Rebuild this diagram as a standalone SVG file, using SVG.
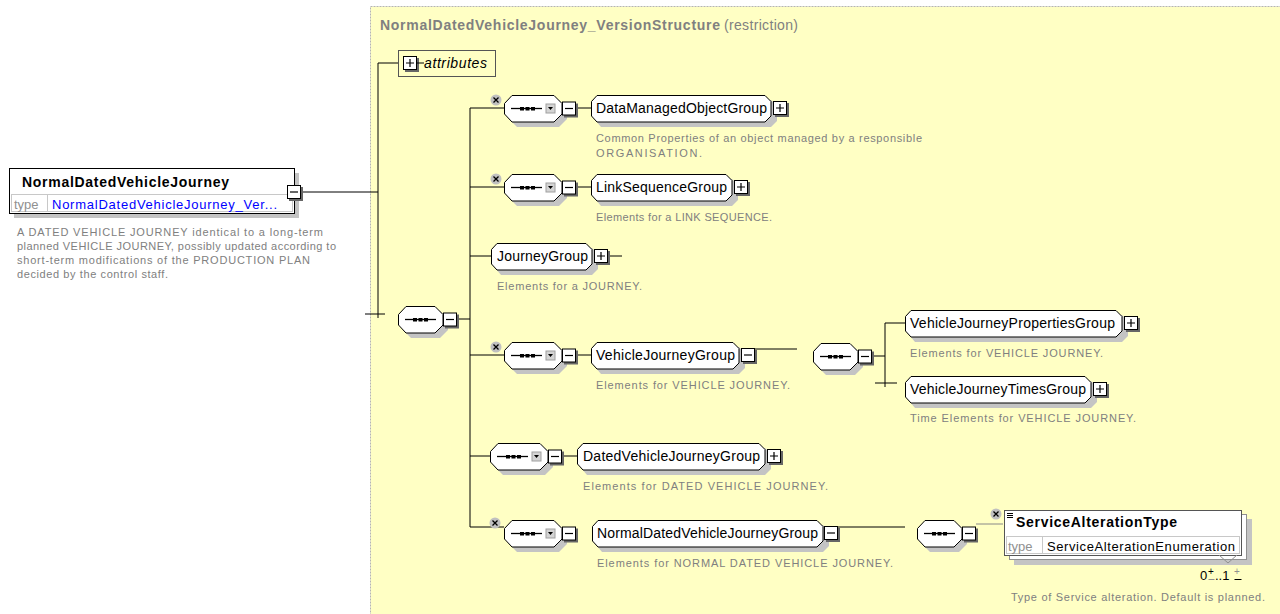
<svg xmlns="http://www.w3.org/2000/svg" xmlns:xlink="http://www.w3.org/1999/xlink" width="1280" height="614" viewBox="0 0 1280 614">
<style>
.lbl{font-family:"Liberation Sans",Arial,sans-serif;font-size:14px;fill:#000}
.desc{font-family:"Liberation Sans",Arial,sans-serif;font-size:11px;fill:#808080}
.bold{font-family:"Liberation Sans",Arial,sans-serif;font-size:14px;font-weight:bold;fill:#000}
.node{fill:#fff;stroke:#000;stroke-width:1}
.shd{fill:#c4c4c4;stroke:none}
.ln{stroke:#000;stroke-width:1;fill:none}
.box{fill:#fff;stroke:#000;stroke-width:1}
</style>
<defs>
<g id="minus">
<rect x="2" y="2" width="14" height="14" fill="#666"/>
<rect x="0.5" y="0.5" width="13" height="13" class="box"/>
<path d="M3,7 H11" stroke="#000" stroke-width="1.2"/>
</g>
<g id="plus">
<rect x="2" y="2" width="14" height="14" fill="#666"/>
<rect x="0.5" y="0.5" width="13" height="13" class="box"/>
<path d="M3,7 H11 M7,3 V11" stroke="#000" stroke-width="1.2"/>
</g>
<g id="xb">
<circle cx="0" cy="0" r="5.5" fill="#c0c0c0"/>
<path d="M-2.5,-2.5 L2.5,2.5 M2.5,-2.5 L-2.5,2.5" stroke="#000" stroke-width="1.3"/>
</g>
<g id="choice">
<path d="M13,5 H55 L63,13 V24 L55,32 H13 L5,24 V13 Z" class="shd"/>
<path d="M8,0.5 H50 L58,8.5 V19 L50,27 H8 L0.5,19 V8.5 Z" class="node"/>
<path d="M7,13.5 H38" stroke="#000" stroke-width="1.3"/>
<rect x="16" y="12" width="4" height="3.5" fill="#000"/>
<rect x="21.5" y="12" width="4" height="3.5" fill="#000"/>
<rect x="27" y="12" width="4" height="3.5" fill="#000"/>
<rect x="42" y="9" width="9" height="9" fill="#d4d4d4" stroke="#a0a0a0"/>
<path d="M44,12 H49 L46.5,15 Z" fill="#000"/>
<use xlink:href="#minus" x="58" y="6.5"/>
</g>
<g id="seq">
<path d="M13,5 H42 L50,13 V24 L42,32 H13 L5,24 V13 Z" class="shd"/>
<path d="M8,0.5 H37 L45,8.5 V19 L37,27 H8 L0.5,19 V8.5 Z" class="node"/>
<path d="M7,13.5 H38" stroke="#000" stroke-width="1.3"/>
<rect x="15" y="12" width="4" height="3.5" fill="#000"/>
<rect x="20.5" y="12" width="4" height="3.5" fill="#000"/>
<rect x="26" y="12" width="4" height="3.5" fill="#000"/>
<use xlink:href="#minus" x="45" y="6.5"/>
</g>
</defs>

<rect x="370.5" y="6.5" width="915" height="615" fill="#FFFFC4" stroke="#b4b4b4" stroke-dasharray="2,1"/>
<text x="380" y="30" font-family="Liberation Sans, Arial, sans-serif" font-size="14" fill="#808080"><tspan font-weight="bold" textLength="340">NormalDatedVehicleJourney_VersionStructure</tspan><tspan x="724" textLength="74">(restriction)</tspan></text>

<g id="connectors">
<path class="ln" d="M302,192 H378 M378,63 V318 M378,63 H398 M365,314 H385"/>
<path class="ln" d="M457,319 H470 M470,108 V527 M470,108 H504 M470,187 H504 M470,256 H491 M470,355 H504 M470,456 H490 M470,527 H504"/>
<path class="ln" d="M577,108 H591 M577,187 H591 M577,355 H591 M563,456 H577 M607,256 H622"/>
<path class="ln" d="M755,349 H797 M872,356 H885 M885,323 V387 M885,323 H905 M875,383 H897"/>
<path class="ln" d="M838,527 H905"/>
<path d="M976,524 H1003" stroke="#888" stroke-width="1" fill="none"/>
</g>

<g id="NormalDatedVehicleJourney">
<rect x="14" y="173" width="285" height="45" class="shd"/>
<rect x="9.5" y="168.5" width="285" height="45" class="node"/>
<rect x="11.5" y="194.5" width="281" height="17" fill="none" stroke="#c8c8c8"/>
<line x1="47.5" y1="195" x2="47.5" y2="211" stroke="#c8c8c8"/>
<text x="22" y="187" class="bold" textLength="207">NormalDatedVehicleJourney</text>
<text x="14" y="209" font-family="Liberation Sans, Arial, sans-serif" font-size="13" fill="#909090">type</text>
<text x="52" y="209" font-family="Liberation Sans, Arial, sans-serif" font-size="13" fill="#0000ff" textLength="225">NormalDatedVehicleJourney_Ver...</text>
<use xlink:href="#minus" x="287" y="185"/>
<text class="desc" x="17" y="236" textLength="306">A DATED VEHICLE JOURNEY identical to a long-term</text>
<text class="desc" x="17" y="250" textLength="319">planned VEHICLE JOURNEY, possibly updated according to</text>
<text class="desc" x="17" y="264" textLength="293">short-term modifications of the PRODUCTION PLAN</text>
<text class="desc" x="17" y="278" textLength="151">decided by the control staff.</text>
</g>

<g id="attributes">
<rect x="398.5" y="50.5" width="97" height="26" fill="#FFFFC4" stroke="#555"/>
<use xlink:href="#plus" x="403" y="56"/>
<path d="M417,63 H424" stroke="#000"/>
<text x="424" y="68" font-family="Liberation Sans, Arial, sans-serif" font-size="14" font-style="italic" fill="#000" textLength="63">attributes</text>
</g>

<g id="seq1"><use xlink:href="#seq" x="398" y="306"/></g>

<g id="choiceDMOG"><use xlink:href="#choice" x="504" y="95"/><use xlink:href="#xb" x="496" y="100"/></g>
<g id="DataManagedObjectGroup">
<path d="M601,100 H771 L777,106 V121 L771,127 H601 L596,121 V106 Z" class="shd"/>
<path d="M597,95.5 H765 L771,101.5 V116 L765,122 H597 L591.5,116 V101.5 Z" class="node"/>
<text x="596" y="113" class="lbl" textLength="171">DataManagedObjectGroup</text>
<use xlink:href="#plus" x="773" y="101"/>
<text class="desc" x="596" y="142" textLength="326">Common Properties of an object managed by a responsible</text>
<text class="desc" x="596" y="157" textLength="106">ORGANISATION.</text>
</g>

<g id="choiceLSG"><use xlink:href="#choice" x="504" y="174"/><use xlink:href="#xb" x="496" y="179"/></g>
<g id="LinkSequenceGroup">
<path d="M601,179 H732 L738,185 V200 L732,206 H601 L596,200 V185 Z" class="shd"/>
<path d="M597,174.5 H726 L732,180.5 V195 L726,201 H597 L591.5,195 V180.5 Z" class="node"/>
<text x="596" y="192" class="lbl" textLength="131">LinkSequenceGroup</text>
<use xlink:href="#plus" x="734" y="180"/>
<text class="desc" x="596" y="221" textLength="176">Elements for a LINK SEQUENCE.</text>
</g>

<g id="JourneyGroup">
<path d="M501,248 H592 L598,254 V269 L592,275 H501 L496,269 V254 Z" class="shd"/>
<path d="M497,243.5 H586 L592,249.5 V264 L586,270 H497 L491.5,264 V249.5 Z" class="node"/>
<text x="497" y="261" class="lbl" textLength="91">JourneyGroup</text>
<use xlink:href="#plus" x="594" y="249"/>
<text class="desc" x="497" y="290" textLength="145">Elements for a JOURNEY.</text>
</g>

<g id="choiceVJG"><use xlink:href="#choice" x="504" y="342"/><use xlink:href="#xb" x="496" y="347"/></g>
<g id="VehicleJourneyGroup">
<path d="M601,347 H739 L745,353 V368 L739,374 H601 L596,368 V353 Z" class="shd"/>
<path d="M597,342.5 H733 L739,348.5 V363 L733,369 H597 L591.5,363 V348.5 Z" class="node"/>
<text x="596" y="360" class="lbl" textLength="139">VehicleJourneyGroup</text>
<use xlink:href="#minus" x="741" y="348"/>
<text class="desc" x="596" y="389" textLength="194">Elements for VEHICLE JOURNEY.</text>
</g>

<g id="seq2"><use xlink:href="#seq" x="813" y="343"/></g>

<g id="VehicleJourneyPropertiesGroup">
<path d="M915,315 H1122 L1128,321 V336 L1122,342 H915 L910,336 V321 Z" class="shd"/>
<path d="M911,310.5 H1116 L1122,316.5 V331 L1116,337 H911 L905.5,331 V316.5 Z" class="node"/>
<text x="910" y="328" class="lbl" textLength="205">VehicleJourneyPropertiesGroup</text>
<use xlink:href="#plus" x="1124" y="316"/>
<text class="desc" x="910" y="357" textLength="193">Elements for VEHICLE JOURNEY.</text>
</g>

<g id="VehicleJourneyTimesGroup">
<path d="M915,381 H1091 L1097,387 V402 L1091,408 H915 L910,402 V387 Z" class="shd"/>
<path d="M911,376.5 H1085 L1091,382.5 V397 L1085,403 H911 L905.5,397 V382.5 Z" class="node"/>
<text x="910" y="394" class="lbl" textLength="176">VehicleJourneyTimesGroup</text>
<use xlink:href="#plus" x="1093" y="382"/>
<text class="desc" x="910" y="422" textLength="226">Time Elements for VEHICLE JOURNEY.</text>
</g>

<g id="choiceDVJG"><use xlink:href="#choice" x="490" y="443"/></g>
<g id="DatedVehicleJourneyGroup">
<path d="M587,448 H765 L771,454 V469 L765,475 H587 L582,469 V454 Z" class="shd"/>
<path d="M583,443.5 H759 L765,449.5 V464 L759,470 H583 L577.5,464 V449.5 Z" class="node"/>
<text x="583" y="461" class="lbl" textLength="177">DatedVehicleJourneyGroup</text>
<use xlink:href="#plus" x="767" y="449"/>
<text class="desc" x="583" y="490" textLength="245">Elements for DATED  VEHICLE JOURNEY.</text>
</g>

<g id="choiceNDVJG"><use xlink:href="#choice" x="504" y="520"/><use xlink:href="#xb" x="495" y="523"/></g>
<g id="NormalDatedVehicleJourneyGroup">
<path d="M602,525 H823 L829,531 V546 L823,552 H602 L597,546 V531 Z" class="shd"/>
<path d="M598,520.5 H817 L823,526.5 V541 L817,547 H598 L592.5,541 V526.5 Z" class="node"/>
<text x="597" y="538" class="lbl" textLength="221">NormalDatedVehicleJourneyGroup</text>
<use xlink:href="#minus" x="824" y="526"/>
<text class="desc" x="597" y="567" textLength="296">Elements for NORMAL DATED VEHICLE JOURNEY.</text>
</g>

<g id="seq3"><use xlink:href="#seq" x="917" y="520"/></g>

<g id="ServiceAlterationType">
<rect x="1014" y="519" width="238" height="46" class="shd"/>
<rect x="1009.5" y="514.5" width="237" height="45" fill="#fff" stroke="#909090"/>
<rect x="1004.5" y="510.5" width="237" height="45" fill="#fff" stroke="#555"/>
<rect x="1006.5" y="536.5" width="233" height="17" fill="none" stroke="#c8c8c8"/>
<line x1="1042.5" y1="537" x2="1042.5" y2="553" stroke="#c8c8c8"/>
<path d="M1007,513.5 H1013 M1007,515.5 H1013 M1007,517.5 H1013" stroke="#000" stroke-width="1"/>
<text x="1016" y="527" class="bold" textLength="161">ServiceAlterationType</text>
<text x="1008" y="551" font-family="Liberation Sans, Arial, sans-serif" font-size="13" fill="#909090">type</text>
<text x="1047" y="551" font-family="Liberation Sans, Arial, sans-serif" font-size="13" fill="#000" textLength="188">ServiceAlterationEnumeration</text>
<polyline points="1219,555 1228,563 1237,555" fill="none" stroke="#909090"/>
<use xlink:href="#xb" x="996" y="514"/>
<text x="1200" y="580" font-family="Liberation Sans, Arial, sans-serif" font-size="13" fill="#000">0</text>
<text x="1208" y="575" font-family="Liberation Sans, Arial, sans-serif" font-size="10" fill="#000">+</text>
<text x="1215" y="580" font-family="Liberation Sans, Arial, sans-serif" font-size="13" fill="#000">..1</text>
<text x="1234" y="575" font-family="Liberation Sans, Arial, sans-serif" font-size="10" fill="#909090">+</text>
<path d="M1208.5,579.5 H1214.5" stroke="#909090" stroke-width="1"/>
<path d="M1234.5,579.5 H1241.5" stroke="#000" stroke-width="1"/>
<text class="desc" x="1011" y="601" textLength="254">Type of Service alteration. Default is planned.</text>
</g>
</svg>
